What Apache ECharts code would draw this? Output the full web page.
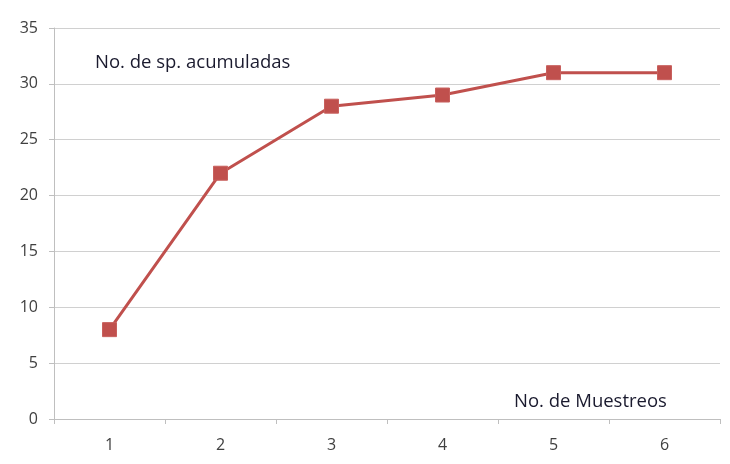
<!DOCTYPE html>
<html><head><meta charset="utf-8">
<script src="https://cdn.jsdelivr.net/npm/echarts@6/dist/echarts.min.js"></script>
<style>html,body{margin:0;padding:0;background:#fff}#c{width:730px;height:464px}</style>
</head><body><div id="c"></div>
<script>
const categories = ['1','2','3','4','5','6'];
const values = [8, 22, 28, 29, 31, 31];
const yTitle = 'No. de sp. acumuladas';
const xTitle = 'No. de Muestreos';

const chart = echarts.init(document.getElementById('c'));
const grid = {left: 54, right: 10, top: 28, bottom: 45};
const FF = '"Open Sans", sans-serif';
chart.setOption({
  animation: false,
  grid: grid,
  graphic: [
    {type:'text', left: 95, top: 53, style:{text: yTitle, font:'18.5px ' + FF, fill:'#1a1a2e'}},
    {type:'text', left: 514, top: 392, style:{text: xTitle, font:'18.5px ' + FF, fill:'#1a1a2e'}}
  ],
  xAxis: {
    type:'category', data: categories, boundaryGap: true,
    axisLine:{lineStyle:{color:'#bfbfbf', width:1}},
    axisTick:{show:true, length:5, alignWithLabel:false, lineStyle:{color:'#bfbfbf'}},
    axisLabel:{color:'#404040', fontSize:16, fontFamily:FF, margin:18}
  },
  yAxis: {
    type:'value', min:0, max:35, interval:5,
    axisLine:{show:true, lineStyle:{color:'#bfbfbf', width:1}},
    axisTick:{show:true, length:5, lineStyle:{color:'#bfbfbf'}},
    splitLine:{lineStyle:{color:'#d0d0d0', width:1}},
    axisLabel:{color:'#404040', fontSize:16, fontFamily:FF, margin:16}
  },
  series: [{
    type:'line', data: values,
    symbol:'rect', symbolSize:14,
    lineStyle:{color:'#c0504d', width:3},
    itemStyle:{color:'#c0504d', borderColor:'#c8605d', borderWidth:1}
  }]
});
</script></body></html>
